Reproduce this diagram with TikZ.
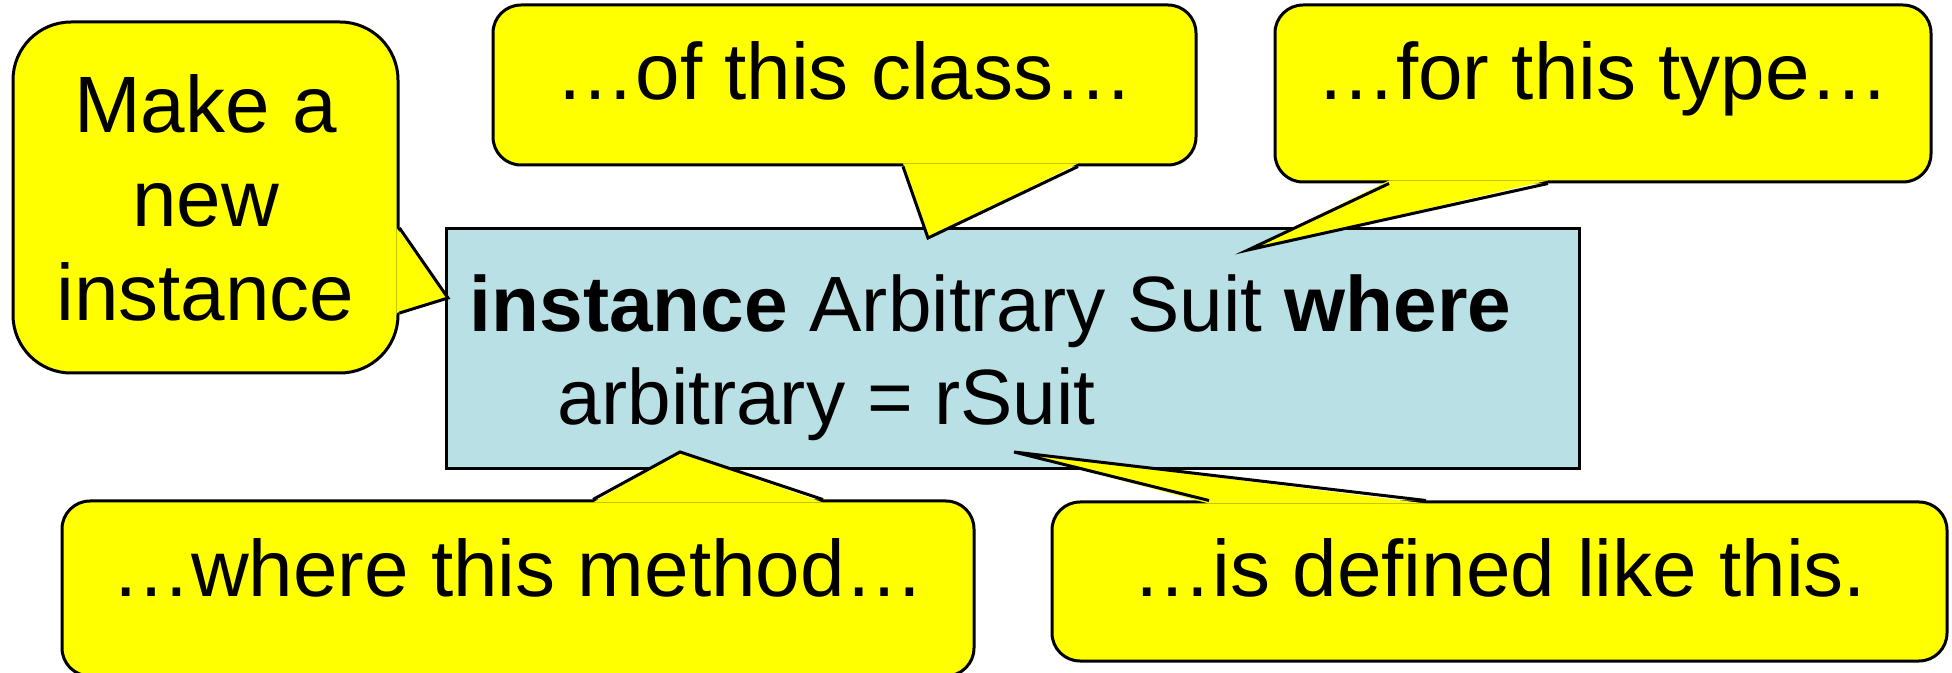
\documentclass[tikz,border=0pt]{standalone}
\usepackage{fontspec}
\setmainfont{Liberation Sans}
\usetikzlibrary{calc,positioning}
\definecolor{notebg}{RGB}{255,255,0}
\definecolor{codebg}{RGB}{185,224,228}

\begin{document}
\begin{tikzpicture}[x=0.25pt,y=-0.25pt,
    every node/.style={font=\fontsize{19.6pt}{23.5pt}\selectfont},
    callout/.style={draw=black, fill=notebg, line width=0.75pt, rounded corners=7pt, inner sep=0pt,
      font=\fontsize{20pt}{23.5pt}\selectfont},
    calltail/.style={fill=notebg},
    tailline/.style={draw=black, line width=0.75pt},
    codebox/.style={draw=black, fill=codebg, line width=0.75pt, inner sep=0pt},
    codeline/.style={anchor=base west, inner sep=0pt}]
  \useasboundingbox (0,0) rectangle (1952,673);

  \node[codebox, minimum width=283.25pt, minimum height=60pt] (code) at (1012.5,349) {};
  \node[codeline] (head) at (469,332) {\textbf{instance} Arbitrary Suit \textbf{where}};
  \node[codeline] (body) at (557,425) {arbitrary = rSuit};

  \coordinate (tipnew) at (448,298);
  \coordinate (tipclass) at (928,238);
  \coordinate (tiptype) at (1248,250);
  \coordinate (tipmethod) at (680,452);
  \coordinate (tipdef) at (1014,452);

  \node[callout, rounded corners=14.5pt, align=center, minimum width=96.25pt, minimum height=87.75pt] (newinst) at (205.5,197.5) {Make a\\new\\instance};
  \fill[calltail] ($(newinst.east |- 0,228)+(-3,0)$) -- (tipnew) -- ($(newinst.east |- 0,313)+(-3,0)$) -- cycle;
  \draw[tailline] (newinst.east |- 0,228) -- (tipnew) -- (newinst.east |- 0,313);

  \node[callout, minimum width=175.75pt, minimum height=40pt, text height=14.7pt, text depth=7.2pt] (ofclass) at (844.5,85) {…of this class…};
  \fill[calltail] ($(903,0 |- ofclass.south)+(0,-3)$) -- (tipclass) -- ($(1078,0 |- ofclass.south)+(0,-3)$) -- cycle;
  \draw[tailline] (903,0 |- ofclass.south) -- (tipclass) -- (1078,0 |- ofclass.south);

  \node[callout, minimum width=164pt, minimum height=44.25pt, text height=14.7pt, text depth=11.45pt] (fortype) at (1603,93.5) {…for this type…};
  \fill[calltail] ($(1389,0 |- fortype.south)+(0,-3)$) -- (tiptype) -- ($(1548,0 |- fortype.south)+(0,-3)$) -- cycle;
  \draw[tailline] (1389,0 |- fortype.south) -- (tiptype) -- (1548,0 |- fortype.south);

  \node[callout, minimum width=228pt, minimum height=43.75pt, text height=14.7pt, text depth=10.45pt] (method) at (518,588.5) {…where this method…};
  \fill[calltail] ($(593,0 |- method.north)+(0,3)$) -- (tipmethod) -- ($(823,0 |- method.north)+(0,3)$) -- cycle;
  \draw[tailline] (593,0 |- method.north) -- (tipmethod) -- (823,0 |- method.north);

  \node[callout, minimum width=223.75pt, minimum height=39.75pt, text height=14.7pt, text depth=6.95pt] (defined) at (1499.5,581.5) {…is defined like this.};
  \fill[calltail] ($(1209,0 |- defined.north)+(0,3)$) -- (tipdef) -- ($(1426,0 |- defined.north)+(0,3)$) -- cycle;
  \draw[tailline] (1209,0 |- defined.north) -- (tipdef) -- (1426,0 |- defined.north);
\end{tikzpicture}
\end{document}
